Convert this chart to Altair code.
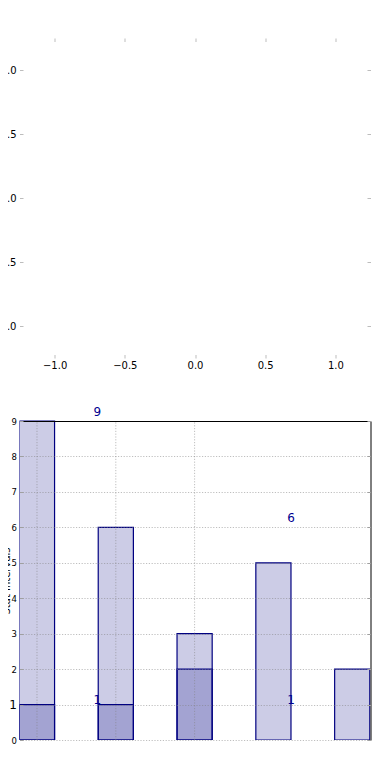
import altair as alt
import pandas as pd

# ---------------- data ----------------
# top (empty) panel
top_ticks = [-1.0, -0.5, 0.0, 0.5, 1.0]
top_lim = [-1.25, 1.25]

# bottom panel
bar_pos = [0, 1, 2, 3, 4]
light_vals = [9, 6, 3, 5, 2]
dark_vals = [1, 1, 2, 0, 0]
label_text = ["9", "6", "1", "1"]
label_x = [0.765, 3.225, 0.765, 3.225]
label_y = [9.14, 6.15, 1.02, 1.02]
y_ticks = [0, 1, 2, 3, 4, 5, 6, 7, 8, 9]
x_grid = [0, 1, 2]
bottom_xlim = [-0.222, 4.232]
bottom_ylim = [0, 9]
y_title = "Stat Intervals"

# ---------------- layout / style ----------------
FONT = "DejaVu Sans"
W = 351            # plot width (both panels)
H1 = 320           # top panel height
GAP = 63           # gap between panels
H2 = 319           # bottom panel height
HT = H1 + GAP + H2
B0 = H1 + GAP      # top of bottom panel
HALF = 0.223
TICK = "#bdbdbd"
GRID = "#808080"

# scales: the two panels share one drawing area, each with its own pixel range
xs_t = alt.Scale(domain=top_lim, nice=False, zero=False)
ys_t = alt.Scale(domain=top_lim, nice=False, zero=False, range=[H1, 0])
xs_b = alt.Scale(domain=bottom_xlim, nice=False, zero=False)
ys_b = alt.Scale(domain=bottom_ylim, nice=False, zero=False, range=[HT, B0])

top_df = pd.DataFrame({"v": top_ticks})


def tick_axis(orient, labels, pad, offset):
    return alt.Axis(
        orient=orient, values=top_ticks, format=".1f", title=None,
        domain=False, grid=False, ticks=True, tickSize=3.5, offset=offset,
        tickColor=TICK, tickWidth=1, labels=labels, labelPadding=pad,
        labelFont=FONT, labelFontSize=10, labelColor="black",
    )


# ---- top panel: ticks on all four sides, labels left and bottom ----
t1 = alt.Chart(top_df).mark_point(opacity=0).encode(
    x=alt.X("v:Q", scale=xs_t, axis=tick_axis("bottom", True, 2, -(HT - H1) - 3.5)),
    y=alt.Y("v:Q", scale=ys_t, axis=tick_axis("left", True, 3.5, -3.5)),
)
t2 = alt.Chart(top_df).mark_point(opacity=0).encode(
    x=alt.X("v:Q", scale=xs_t, axis=tick_axis("top", False, 2, -3.5)),
    y=alt.Y("v:Q", scale=ys_t, axis=tick_axis("right", False, 2, -3.5)),
)

# ---- bottom panel ----
bars = pd.DataFrame({"pos": bar_pos, "light": light_vals, "dark": dark_vals})
labs = pd.DataFrame({"t": label_text, "lx": label_x, "ly": label_y})
ytk = pd.DataFrame({"v": y_ticks})
vgrid = pd.DataFrame({"gx": x_grid, "y0": [bottom_ylim[0]] * len(x_grid),
                      "y1": [bottom_ylim[1]] * len(x_grid)})

base = alt.Chart(bars).transform_calculate(
    x0=f"datum.pos - {HALF}", x1=f"datum.pos + {HALF}"
)

light = base.mark_rect(
    fill="navy", fillOpacity=0.2, stroke="navy", strokeWidth=1.2, clip=True
).encode(
    x=alt.X("x0:Q", scale=xs_b, axis=None),
    x2="x1:Q",
    y=alt.Y("light:Q", scale=ys_b, axis=alt.Axis(
        orient="left", values=y_ticks, format="d", ticks=False, domain=False,
        grid=True, gridColor=GRID, gridOpacity=0.5, gridDash=[1.2, 1.6],
        gridWidth=1, zindex=1, labelPadding=3, labelFont=FONT,
        labelFontSize={"condition": {"test": "datum.value == 1", "value": 12}, "value": 8.5},
        labelColor="black", title=y_title, titleFont=FONT, titleFontSize=10,
        titleFontWeight="normal", titleColor="black", titleX=-8.5,
        titleBaseline="bottom")),
    y2=alt.datum(0),
)

dark = base.transform_filter("datum.dark > 0").mark_rect(
    fill="navy", fillOpacity=0.2, stroke="navy", strokeWidth=1.2, clip=True
).encode(
    x=alt.X("x0:Q", scale=xs_b, axis=None),
    x2="x1:Q",
    y=alt.Y("dark:Q", scale=ys_b, axis=None),
    y2=alt.datum(0),
)

vlines = alt.Chart(vgrid).mark_rule(
    color=GRID, opacity=0.5, strokeDash=[1.2, 1.6], strokeWidth=1
).encode(
    x=alt.X("gx:Q", scale=xs_b, axis=None),
    y=alt.Y("y0:Q", scale=ys_b, axis=None),
    y2="y1:Q",
)

text = alt.Chart(labs).mark_text(
    font=FONT, fontSize=12, color="#000090", align="center", baseline="alphabetic"
).encode(
    x=alt.X("lx:Q", scale=xs_b, axis=None),
    y=alt.Y("ly:Q", scale=ys_b, axis=None),
    text="t:N",
)

spines = alt.Chart(ytk).mark_point(opacity=0).encode(
    x=alt.X("v:Q", scale=xs_b, axis=alt.Axis(
        orient="top", offset=-B0, labels=False, ticks=False, grid=False,
        domain=True, domainColor="black", domainWidth=1, title=None, zindex=2)),
    y=alt.Y("v:Q", scale=ys_b, axis=alt.Axis(
        orient="right", labels=False, ticks=False, grid=False, domain=True,
        domainColor="black", domainWidth=1, title=None, zindex=2)),
)

rticks = alt.Chart(ytk).mark_point(opacity=0).encode(
    y=alt.Y("v:Q", scale=ys_b, axis=alt.Axis(
        orient="right", values=y_ticks, labels=False, ticks=True, tickSize=3.5,
        offset=-3.5, tickColor="#a0a0a0", grid=False, domain=False, title=None,
        zindex=2)),
)
lticks = alt.Chart(ytk).mark_point(opacity=0).encode(
    y=alt.Y("v:Q", scale=ys_b, axis=alt.Axis(
        orient="left", values=y_ticks, labels=False, ticks=True, tickSize=3.5,
        offset=-3.5, tickColor="#a0a0a0", grid=False, domain=False, title=None,
        zindex=2)),
)

chart = alt.layer(
    t1, t2, light, dark, vlines, text, spines, rticks, lticks
).resolve_scale(
    x="independent", y="independent"
).resolve_axis(
    x="independent", y="independent"
).properties(
    width=W, height=HT,
    autosize=alt.AutoSizeParams(type="none"),
    padding={"left": 11.5, "top": 30, "right": 10, "bottom": 20},
).configure_view(stroke=None)

chart.save("out.html", embed_options={"renderer": "svg", "actions": False})
